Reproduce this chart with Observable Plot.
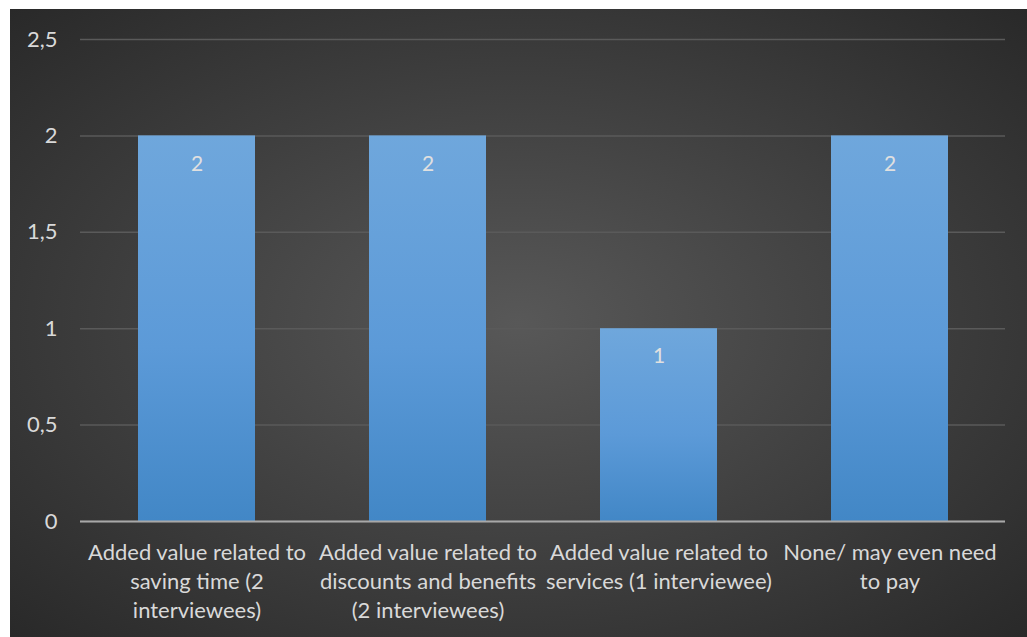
<!DOCTYPE html>
<html>
<head>
<meta charset="utf-8">
<script src="https://cdn.jsdelivr.net/npm/d3@7"></script>
<script src="https://cdn.jsdelivr.net/npm/@observablehq/plot@0.6"></script>
<style>
  html, body { margin: 0; padding: 0; background: #ffffff; }
  #chart { position: absolute; left: 10px; top: 9px; width: 1017px; height: 628px;
    background: radial-gradient(ellipse 75% 75% at 50% 50%, #585858 0%, #3a3a3a 60%, #262626 100%); }
  #chart svg { display: block; background: transparent; }
</style>
</head>
<body>
<div id="chart"></div>
<script>
const categories = [
  "Added value related to\nsaving time (2\ninterviewees)",
  "Added value related to\ndiscounts and benefits\n(2 interviewees)",
  "Added value related to\nservices (1 interviewee)",
  "None/ may even need\nto pay"
];
const values = [2, 2, 1, 2];
const yTicks = [0, 0.5, 1, 1.5, 2, 2.5];

const data = categories.map((c, i) => ({category: c, value: values[i]}));
const fmt = d => String(d).replace(".", ",");
const font = "Lato, 'Open Sans', sans-serif";

const plot = Plot.plot({
  width: 1017,
  height: 628,
  marginLeft: 70,
  marginRight: 22,
  marginTop: 30,
  marginBottom: 116,
  style: {background: "transparent", color: "#d9d9d9", fontFamily: font},
  x: {domain: categories, paddingInner: 0.494, paddingOuter: 0.247, label: null},
  y: {domain: [0, 2.5], ticks: yTicks, label: null},
  marks: [
    Plot.gridY(yTicks, {stroke: "#5a5a5a", strokeOpacity: 1, strokeWidth: 1.5}),
    Plot.barY(data, {x: "category", y: "value", fill: "url(#barGrad)",
      style: "filter: drop-shadow(0px 0px 4px rgba(0,0,0,0.55));"}),
    Plot.text(data, {x: "category", y: "value", text: d => fmt(d.value), dy: 28,
      fill: "#e0e0e0", fontSize: 21, fontFamily: font}),
    Plot.ruleY([0], {stroke: "#a8a8a8", strokeWidth: 2}),
    Plot.axisY(yTicks, {tickSize: 0, tickPadding: 23, tickFormat: fmt, fontSize: 22,
      fill: "#d9d9d9", fontFamily: font, label: null}),
    Plot.axisX({tickSize: 0, tickPadding: 18, fontSize: 22, lineHeight: 1.32,
      fill: "#d9d9d9", fontFamily: font, label: null, tickFormat: d => d})
  ]
});

const svg = d3.select(plot);
const defs = svg.insert("defs", ":first-child");
const g = defs.append("linearGradient").attr("id", "barGrad")
  .attr("x1", 0).attr("y1", 0).attr("x2", 0).attr("y2", 1);
g.append("stop").attr("offset", "0%").attr("stop-color", "#6fa7dc");
g.append("stop").attr("offset", "55%").attr("stop-color", "#5c9ad8");
g.append("stop").attr("offset", "100%").attr("stop-color", "#4287c6");

document.getElementById("chart").appendChild(plot);
</script>
</body>
</html>
